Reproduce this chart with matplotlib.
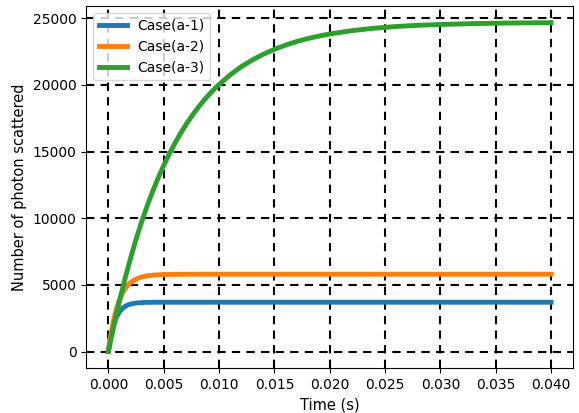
import numpy as np
import matplotlib.pyplot as plt

# --- values ---
t_fast = [0, 0.000125, 0.00025, 0.000375, 0.0005, 0.000625, 0.00075, 0.001, 0.00125,
          0.0015, 0.00175, 0.002, 0.0025, 0.003, 0.0035, 0.004, 0.005, 0.006,
          0.008, 0.010, 0.015, 0.020, 0.025, 0.030, 0.035, 0.040]
case_a1 = [0, 690, 1240, 1690, 2070, 2370, 2620, 2980, 3220,
           3380, 3490, 3560, 3640, 3670, 3690, 3695, 3700, 3700,
           3700, 3700, 3700, 3700, 3700, 3700, 3700, 3700]
case_a2 = [0, 750, 1410, 1970, 2470, 2900, 3280, 3890, 4350,
           4700, 4970, 5170, 5440, 5590, 5680, 5730, 5775, 5790,
           5800, 5800, 5800, 5800, 5800, 5800, 5800, 5800]

t_slow = [0, 0.0005, 0.001, 0.0015, 0.002, 0.0025, 0.003, 0.0035, 0.004, 0.0045,
          0.005, 0.0055, 0.006, 0.0065, 0.007, 0.0075, 0.008, 0.0085, 0.009, 0.0095,
          0.010, 0.011, 0.012, 0.013, 0.014, 0.015, 0.016, 0.017, 0.018, 0.019,
          0.020, 0.022, 0.024, 0.026, 0.028, 0.030, 0.033, 0.036, 0.040]
case_a3 = [0, 1980, 3790, 5460, 7000, 8420, 9720, 10920, 12020, 13030,
           13960, 14820, 15610, 16340, 17010, 17620, 18190, 18710, 19190, 19630,
           20030, 20750, 21360, 21870, 22300, 22670, 22980, 23250, 23470, 23660,
           23820, 24070, 24250, 24380, 24470, 24530, 24600, 24640, 24670]

fig, ax = plt.subplots(figsize=(5.79, 4.13), dpi=100)

ax.plot(t_fast, case_a1, lw=3.5, label='Case(a-1)')
ax.plot(t_fast, case_a2, lw=3.5, label='Case(a-2)')
ax.plot(t_slow, case_a3, lw=3.5, label='Case(a-3)')

ax.set_xticks(np.arange(0, 0.0401, 0.005))
ax.grid(True, color='black', linestyle='--', linewidth=1.5, dashes=(4, 3))
ax.set_xlabel('Time (s)', fontsize=10.5)
ax.set_ylabel('Number of photon scattered', fontsize=10.5)
ax.legend(loc='upper left', fontsize=10)

fig.subplots_adjust(left=0.149, right=0.99, top=0.985, bottom=0.109)
fig.savefig('out.png', dpi=100)
